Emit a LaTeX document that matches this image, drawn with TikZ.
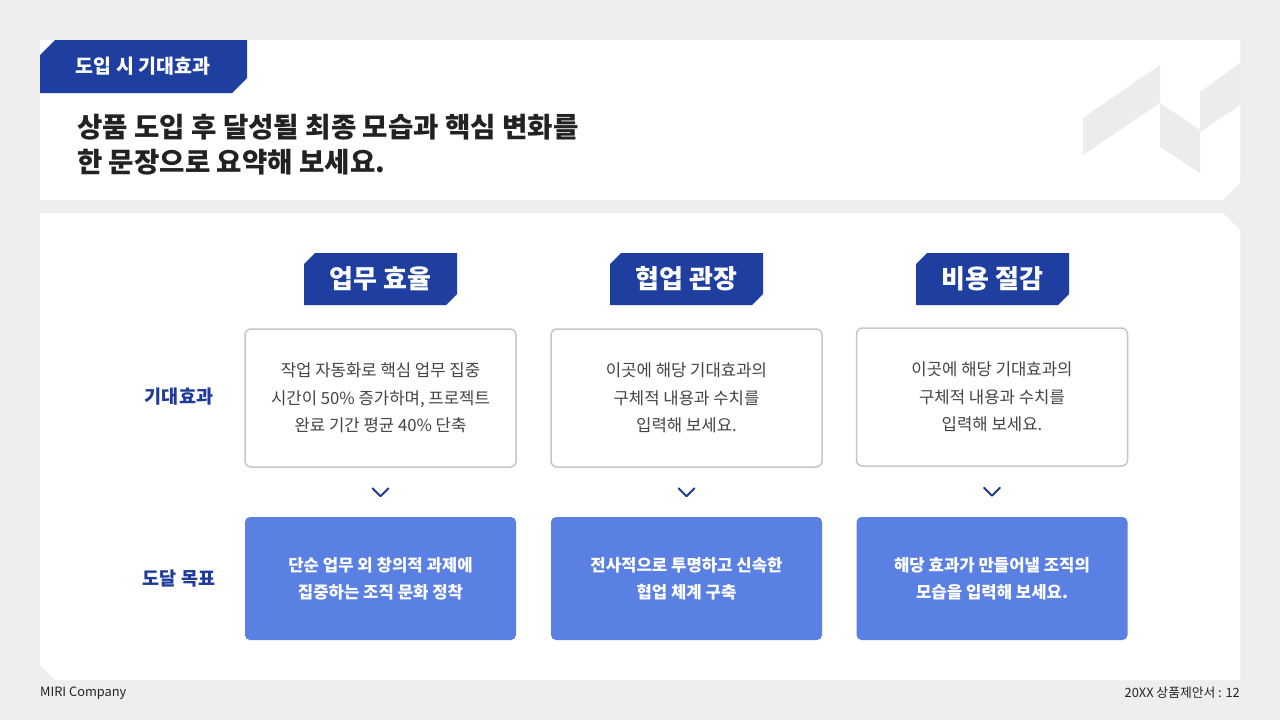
\documentclass[tikz,border=0pt]{standalone}
\usepackage{fontspec}
\setmainfont{Noto Sans CJK KR}
\usetikzlibrary{calc}
\definecolor{bg}{HTML}{EEEEF0}
\definecolor{navy}{HTML}{1E3FA0}
\definecolor{midblue}{HTML}{5B80E3}
\definecolor{txt}{HTML}{222222}
\definecolor{bodytxt}{HTML}{444444}
\definecolor{bordergray}{HTML}{C6C6C8}
\definecolor{logo}{HTML}{ECECEE}
\definecolor{chev}{HTML}{1E3A8A}
\definecolor{lblblue}{HTML}{1E3A9A}
\begin{document}
\begin{tikzpicture}[x=1pt,y=-1pt,
  hdrtext/.style={text=white, inner sep=0pt, font=\fontsize{26}{30}\selectfont\bfseries},
  effbox/.style={draw=bordergray, line width=1.5pt, fill=white, rounded corners=6pt, minimum width=271pt, minimum height=138pt, inner sep=0pt, align=center, text=bodytxt, font=\fontsize{16.7}{27.5}\selectfont},
  goalbox/.style={fill=midblue, rounded corners=5pt, minimum width=271pt, minimum height=123pt, inner sep=0pt, align=center, text=white, font=\fontsize{16.7}{27}\selectfont\bfseries},
  lbl/.style={text=lblblue, inner sep=0pt, font=\fontsize{18.5}{22}\selectfont\bfseries},
  chevst/.style={draw=chev, line width=2pt, line cap=round, line join=round},
  foot/.style={text=txt, inner sep=0pt, font=\fontsize{12.8}{15}\selectfont}
]
\useasboundingbox (0,0) rectangle (1280,720);
\fill[bg] (0,0) rectangle (1280,720);
% top panel
\fill[white] (40,40) -- (1240,40) -- (1240,183) -- (1223,200) -- (40,200) -- cycle;
% logo
\fill[logo] (1083,118) -- (1160,65) -- (1160,103) -- (1083,155) -- cycle;
\fill[logo] (1160,103) -- (1200,130) -- (1200,173) -- (1160,147) -- cycle;
\fill[logo] (1200,92) -- (1240,63) -- (1240,105) -- (1200,132) -- cycle;
% main panel
\fill[white] (40,213) -- (1223,213) -- (1240,230) -- (1240,680) -- (55,680) -- (40,665) -- cycle;
% tab
\fill[navy] (40,55) -- (55,40) -- (247,40) -- (247,78) -- (232,93) -- (40,93) -- cycle;
\node[text=white, inner sep=0pt, font=\fontsize{19.5}{22}\selectfont\bfseries] (tab) at (143,66) {도입 시 기대효과};
% title
\node[anchor=west, align=left, text=txt, inner sep=0pt, font=\fontsize{27.6}{35}\selectfont\bfseries] (title) at (77,145) {상품 도입 후 달성될 최종 모습과 핵심 변화를\\한 문장으로 요약해 보세요.};
% column headers
\foreach \cx/\nm/\t in {380.5/h1/업무 효율, 686.5/h2/협업 관장, 992.5/h3/비용 절감}{
  \fill[navy] (\cx-76.5,264) -- (\cx-65.5,253) -- (\cx+76.5,253) -- (\cx+76.5,294) -- (\cx+65.5,305) -- (\cx-76.5,305) -- cycle;
  \node[hdrtext] (\nm) at (\cx,279) {\t};
}
% effect boxes
\node[effbox] (e1) at (380.5,398) {작업 자동화로 핵심 업무 집중\\시간이 50\% 증가하며, 프로젝트\\완료 기간 평균 40\% 단축};
\node[effbox] (e2) at (686.5,398) {이곳에 해당 기대효과의\\구체적 내용과 수치를\\입력해 보세요.};
\node[effbox] (e3) at (992,397) {이곳에 해당 기대효과의\\구체적 내용과 수치를\\입력해 보세요.};
% goal boxes
\node[goalbox] (g1) at (380.5,578.5) {단순 업무 외 창의적 과제에\\집중하는 조직 문화 정착};
\node[goalbox] (g2) at (686.5,578.5) {전사적으로 투명하고 신속한\\협업 체계 구축};
\node[goalbox] (g3) at (992,578.5) {해당 효과가 만들어낼 조직의\\모습을 입력해 보세요.};
% chevrons
\foreach \i in {1,2,3}{
  \coordinate (c\i) at ($(e\i.south)!0.5!(g\i.north)$);
  \draw[chevst] ([shift={(-8,-4)}]c\i) -- ([shift={(0,4)}]c\i) -- ([shift={(8,-4)}]c\i);
}
% row labels
\node[lbl] (l1) at (179,397) {기대효과};
\node[lbl] (l2) at (179,579) {도달 목표};
% footer
\node[foot, anchor=west] (f1) at (40,693) {MIRI Company};
\node[foot, anchor=east] (f2) at (1240,693) {20XX 상품제안서 : 12};
\end{tikzpicture}
\end{document}
